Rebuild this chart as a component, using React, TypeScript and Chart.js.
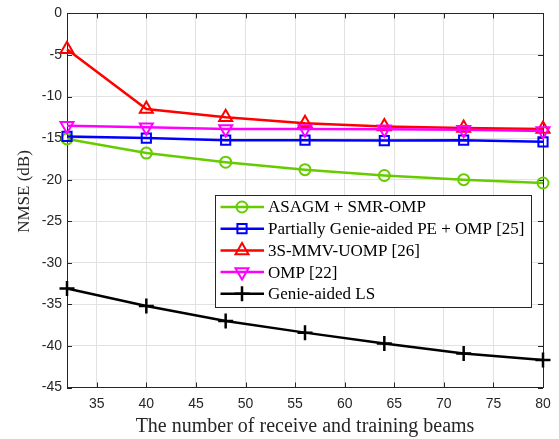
import React, { useEffect, useRef } from 'react';
import { Chart, registerables } from 'chart.js';

Chart.register(...registerables);

// ---------- data ----------
const beams = [32, 40, 48, 56, 64, 72, 80];
const asagmSmrOmp = [-15.1, -16.8, -17.9, -18.8, -19.5, -20.0, -20.4];
const partialGenieOmp = [-14.8, -15.0, -15.25, -15.25, -15.3, -15.25, -15.45];
const mmvUomp = [-4.3, -11.5, -12.5, -13.2, -13.6, -13.8, -13.9];
const ompRef = [-13.5, -13.7, -13.9, -13.9, -13.95, -14.0, -14.15];
const genieLs = [-33.1, -35.2, -37.0, -38.4, -39.7, -40.9, -41.7];

const seriesNames = [
  'ASAGM + SMR-OMP',
  'Partially Genie-aided PE + OMP [25]',
  '3S-MMV-UOMP [26]',
  'OMP [22]',
  'Genie-aided LS',
];
const seriesValues = [asagmSmrOmp, partialGenieOmp, mmvUomp, ompRef, genieLs];

const xTicks = [35, 40, 45, 50, 55, 60, 65, 70, 75, 80];
const yTicks = [-45, -40, -35, -30, -25, -20, -15, -10, -5, 0];

const xTitle = 'The number of receive and training beams';
const yTitle = 'NMSE (dB)';

// ---------- styles ----------
const seriesColors = ['#66CC00', '#0000FF', '#FF0000', '#FF00FF', '#000000'];
const seriesMarkers = ['circle', 'rect', 'triangle', 'triangle', 'cross'];
const seriesMarkerRot = [0, 0, 0, 180, 0];
const seriesMarkerR = [5.5, 6.5, 7.5, 7.5, 7.5];
const AXIS_COLOR = '#262626';
const GRID_COLOR = '#e2e2e2';

function drawMarker(ctx: CanvasRenderingContext2D, style: string, x: number, y: number, r: number, rot: number) {
  ctx.beginPath();
  if (style === 'circle') {
    ctx.arc(x, y, r, 0, Math.PI * 2);
  } else if (style === 'rect') {
    const s = r * Math.SQRT1_2;
    ctx.rect(x - s, y - s, 2 * s, 2 * s);
  } else if (style === 'triangle') {
    let a = (rot * Math.PI) / 180;
    for (let k = 0; k < 3; k++) {
      const px = x + Math.sin(a) * r;
      const py = y - Math.cos(a) * r;
      if (k === 0) ctx.moveTo(px, py);
      else ctx.lineTo(px, py);
      a += (2 * Math.PI) / 3;
    }
    ctx.closePath();
  } else if (style === 'cross') {
    ctx.moveTo(x, y - r);
    ctx.lineTo(x, y + r);
    ctx.moveTo(x - r, y);
    ctx.lineTo(x + r, y);
  }
  ctx.stroke();
}

const boxPlugin = {
  id: 'matlabBox',
  beforeDatasetsDraw(chart: any) {
    const { ctx, chartArea } = chart;
    const { left, right, top, bottom } = chartArea;
    const xs = chart.scales.x;
    const ys = chart.scales.y;
    const tl = 5;
    ctx.save();
    ctx.strokeStyle = AXIS_COLOR;
    ctx.lineWidth = 1;
    ctx.beginPath();
    xTicks.forEach((v) => {
      const px = Math.round(xs.getPixelForValue(v)) + 0.5;
      ctx.moveTo(px, bottom);
      ctx.lineTo(px, bottom - tl);
      ctx.moveTo(px, top);
      ctx.lineTo(px, top + tl);
    });
    yTicks.forEach((v) => {
      const py = Math.round(ys.getPixelForValue(v)) + 0.5;
      ctx.moveTo(left, py);
      ctx.lineTo(left + tl, py);
      ctx.moveTo(right, py);
      ctx.lineTo(right - tl, py);
    });
    ctx.stroke();
    ctx.strokeRect(Math.round(left) + 0.5, Math.round(top) + 0.5, Math.round(right - left), Math.round(bottom - top));

    // y axis title
    ctx.translate(left - 42, (top + bottom) / 2 - 9);
    ctx.rotate(-Math.PI / 2);
    ctx.font = '17px "Liberation Serif"';
    ctx.fillStyle = AXIS_COLOR;
    ctx.textAlign = 'center';
    ctx.textBaseline = 'middle';
    ctx.fillText(yTitle, 0, 0);
    ctx.restore();
  },
};

const legendPlugin = {
  id: 'matlabLegend',
  afterDatasetsDraw(chart: any) {
    const { ctx, chartArea } = chart;
    ctx.save();
    ctx.font = '17px "Liberation Serif"';
    const widths = seriesNames.map((t) => ctx.measureText(t).width);
    const maxW = Math.max(...widths);
    const rowH = 21.7;
    const boxW = Math.round(53 + maxW + 6);
    const boxH = Math.round(rowH * seriesNames.length + 3);
    const right = chartArea.right - 12;
    const left = Math.round(right - boxW);
    const top = Math.round(chartArea.top + 182);
    ctx.fillStyle = '#ffffff';
    ctx.fillRect(left, top, boxW, boxH);
    ctx.strokeStyle = AXIS_COLOR;
    ctx.lineWidth = 1;
    ctx.strokeRect(left + 0.5, top + 0.5, boxW, boxH);
    seriesNames.forEach((name, i) => {
      const y = top + 12 + i * rowH;
      ctx.strokeStyle = seriesColors[i];
      ctx.lineWidth = 2.5;
      ctx.beginPath();
      ctx.moveTo(left + 5.5, y);
      ctx.lineTo(left + 49, y);
      ctx.stroke();
      ctx.lineWidth = i === 4 ? 2.5 : 2;
      drawMarker(ctx, seriesMarkers[i], left + 27, y, seriesMarkerR[i], seriesMarkerRot[i]);
      ctx.fillStyle = '#000000';
      ctx.textBaseline = 'middle';
      ctx.textAlign = 'left';
      ctx.fillText(name, left + 53, y + 1);
    });
    ctx.restore();
  },
};

export default function App() {
  const ref = useRef<HTMLCanvasElement | null>(null);

  useEffect(() => {
    document.body.style.margin = '0';
    const canvas = ref.current;
    if (!canvas) return;
    const datasets = seriesNames.map((name, i) => ({
      label: name,
      data: beams.map((b, j) => ({ x: b, y: seriesValues[i][j] })),
      borderColor: seriesColors[i],
      backgroundColor: 'transparent',
      borderWidth: 2.5,
      pointStyle: seriesMarkers[i],
      pointRotation: seriesMarkerRot[i],
      pointRadius: seriesMarkerR[i],
      pointBorderWidth: i === 4 ? 2.5 : 2,
      pointBorderColor: seriesColors[i],
      pointBackgroundColor: 'transparent',
      tension: 0,
      clip: false as any,
      order: seriesNames.length - i,
    }));
    const chart = new Chart(canvas, {
      type: 'line',
      data: { datasets },
      options: {
        responsive: false,
        animation: false,
        events: [],
        layout: { padding: { top: 11, right: 16, left: 0, bottom: 0 } },
        plugins: {
          legend: { display: false },
          tooltip: { enabled: false },
        },
        scales: {
          x: {
            type: 'linear',
            min: 32,
            max: 80,
            afterBuildTicks: (s: any) => {
              s.ticks = xTicks.map((v) => ({ value: v }));
            },
            afterFit: (s: any) => {
              s.height = 51.5;
            },
            ticks: {
              color: AXIS_COLOR,
              font: { family: '"Liberation Sans", Arial', size: 14 },
              padding: 8,
              maxRotation: 0,
              autoSkip: false,
            },
            grid: { color: GRID_COLOR, drawTicks: false, lineWidth: 1 },
            border: { display: false },
            title: {
              display: true,
              text: xTitle,
              color: AXIS_COLOR,
              font: { family: '"Liberation Serif", "Times New Roman"', size: 20 },
              padding: { top: 0, bottom: 0 },
            },
          },
          y: {
            type: 'linear',
            min: -45,
            max: 0,
            afterBuildTicks: (s: any) => {
              s.ticks = yTicks.map((v) => ({ value: v }));
            },
            afterFit: (s: any) => {
              s.width = 67;
            },
            ticks: {
              color: AXIS_COLOR,
              font: { family: '"Liberation Sans", Arial', size: 14 },
              padding: 5,
            },
            grid: { color: GRID_COLOR, drawTicks: false, lineWidth: 1 },
            border: { display: false },
          },
        },
      } as any,
      plugins: [boxPlugin, legendPlugin],
    });
    return () => chart.destroy();
  }, []);

  return (
    <div style={{ width: 559, height: 439 }}>
      <canvas ref={ref} width={559} height={439} style={{ display: 'block' }} />
    </div>
  );
}
